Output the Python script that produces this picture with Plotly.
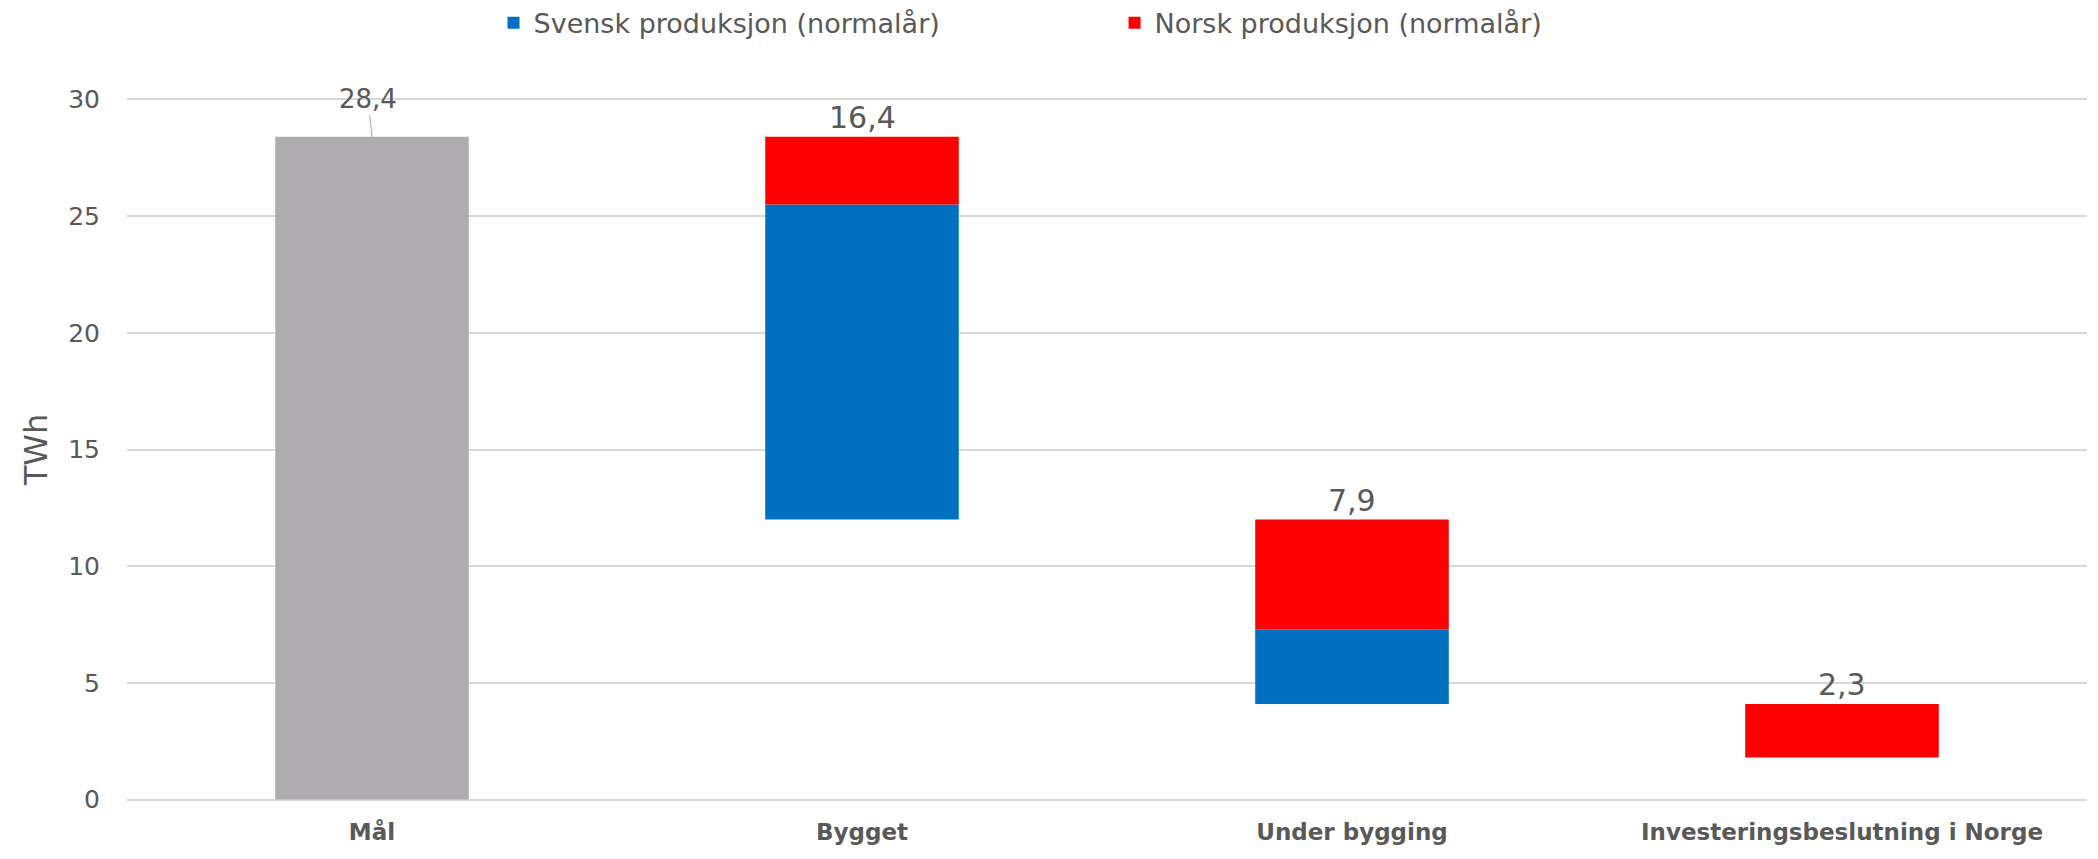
import plotly.graph_objects as go

categories = ["Mål", "Bygget", "Under bygging", "Investeringsbeslutning i Norge"]
maal = [28.4, 0, 0, 0]
svensk = [0, 13.5, 3.2, 0]
norsk = [0, 2.9, 4.7, 2.3]
totals = [28.4, 16.4, 7.9, 2.3]
label_text = ["28,4", "16,4", "7,9", "2,3"]
y_ticks = [0, 5, 10, 15, 20, 25, 30]

# waterfall bases: each step hangs down from the previous top
bases = []
tops = []
level = totals[0]
for i, t in enumerate(totals):
    if i == 0:
        bases.append(0)
        tops.append(t)
    else:
        tops.append(level)
        level = level - t
        bases.append(level)

svensk_base = bases
norsk_base = [b + s for b, s in zip(bases, svensk)]

FONT = "DejaVu Sans, Open Sans, Arial, sans-serif"
TXT = "#595959"

fig = go.Figure()
fig.add_trace(go.Bar(
    x=categories, y=maal, base=[0, 0, 0, 0], marker_color="#AEACAF",
    marker_line_width=0, showlegend=False, name="Mål", width=0.395,
    hoverinfo="skip"))
fig.add_trace(go.Bar(
    x=categories, y=svensk, base=svensk_base, marker_color="#0070C0",
    marker_line_width=0, name="Svensk produksjon (normalår)", width=0.395))
fig.add_trace(go.Bar(
    x=categories, y=norsk, base=norsk_base, marker_color="#FF0000",
    marker_line_width=0, name="Norsk produksjon (normalår)", width=0.395))

for i, (c, top, txt) in enumerate(zip(categories, tops, label_text)):
    if i == 0:
        fig.add_annotation(x=c, y=top, xref="x", yref="y", text=txt,
                           showarrow=True, arrowhead=0, arrowwidth=1,
                           arrowcolor="#A6A6A6", ax=-4, ay=-38, standoff=0,
                           font=dict(family=FONT, size=26, color=TXT))
    else:
        fig.add_annotation(x=c, y=top, xref="x", yref="y", text=txt,
                           showarrow=False, yanchor="middle", yshift=19,
                           font=dict(family=FONT, size=30, color=TXT))

fig.update_layout(
    width=2082, height=843,
    margin=dict(l=119, r=3, t=90, b=50, autoexpand=False),
    paper_bgcolor="white", plot_bgcolor="white",
    barmode="overlay",
    font=dict(family=FONT, color=TXT),
    legend=dict(orientation="h", x=0.187, xanchor="left",
                yref="container", y=0.982, yanchor="middle",
                font=dict(size=27, color=TXT),
                entrywidth=576, entrywidthmode="pixels",
                traceorder="normal"),
    xaxis=dict(showgrid=False, showline=False, ticks="",
               tickfont=dict(size=23, color=TXT, family=FONT, weight="bold"),
               ticklabelstandoff=15, fixedrange=True, automargin=False),
    yaxis=dict(range=[-0.06, 30.06], tickvals=y_ticks, showgrid=True,
               gridcolor="#D9D9D9", gridwidth=1.5, zeroline=False,
               showline=False, ticks="", automargin=False,
               tickfont=dict(size=25, color=TXT, family=FONT),
               ticklabelstandoff=26,
               title=dict(text="TWh", font=dict(size=32, color=TXT, family=FONT),
                          standoff=10)),
)

fig.write_html("out.html")
